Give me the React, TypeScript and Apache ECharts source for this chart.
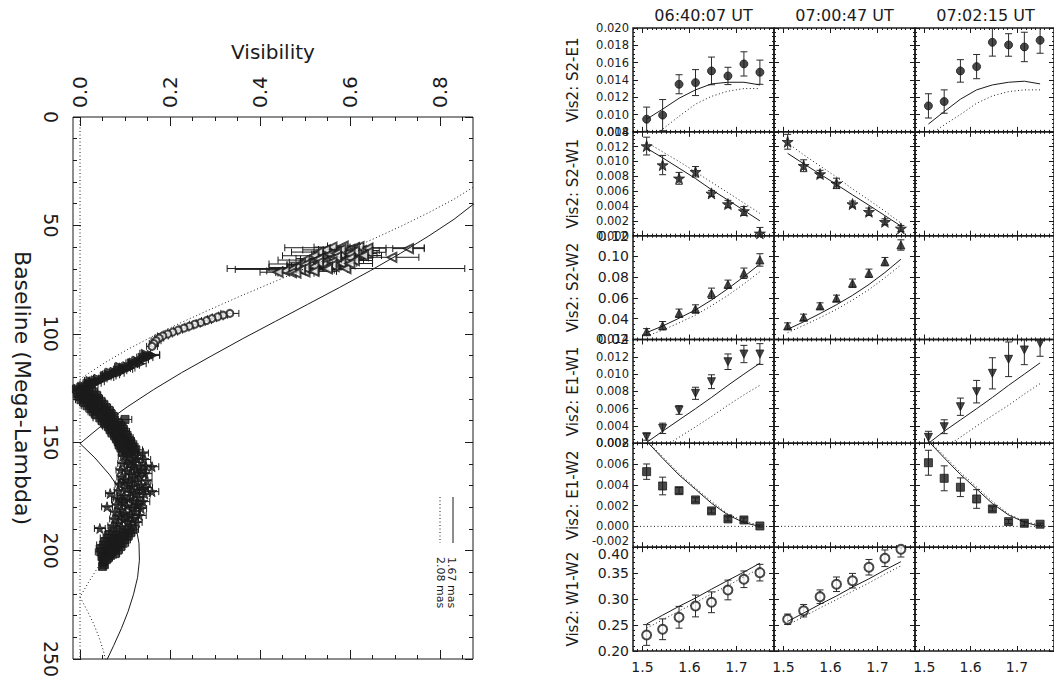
import React, { useEffect, useRef } from "react";
import * as echarts from "echarts";

const FONT = "DejaVu Sans";
const INK = "#1b1b1b";

// ---------------- Left panel: visibility vs baseline ----------------
const VIS_LABELS = [0, 0.2, 0.4, 0.6, 0.8];
const VIS_MINOR = [0, 0.05, 0.1, 0.15, 0.2, 0.25, 0.3, 0.35, 0.4, 0.45, 0.5, 0.55, 0.6, 0.65, 0.7, 0.75, 0.8, 0.85];
const LEGEND_NAMES = ["1.67 mas", "2.08 mas"];

// uniform-disk model curves (baseline in Mega-Lambda, |V|)
const UD167_BASE = [39.3, 47.2, 55.0, 62.9, 70.8, 78.6, 86.5, 94.3, 102.2, 110.1, 117.9, 125.8, 133.7, 141.5, 149.4, 150.6, 157.2, 165.1, 173.0, 180.8, 188.7, 196.6, 204.4, 212.3, 220.1, 228.0, 235.9, 243.7, 251.6];
const UD167_VIS = [0.880, 0.831, 0.774, 0.712, 0.646, 0.577, 0.505, 0.434, 0.362, 0.293, 0.226, 0.163, 0.105, 0.053, 0.007, 0.0, 0.033, 0.066, 0.092, 0.112, 0.124, 0.131, 0.132, 0.128, 0.119, 0.107, 0.092, 0.075, 0.057];
const UD208_BASE = [31.6, 37.9, 44.2, 50.5, 56.8, 63.1, 69.4, 75.8, 82.1, 88.4, 94.7, 101.0, 107.3, 113.6, 119.9, 121.0, 126.3, 132.6, 138.9, 145.2, 151.5, 157.8, 164.1, 170.5, 176.8, 183.1, 189.4, 195.7, 202.0, 208.3, 214.6, 221.0, 221.4, 227.3, 233.6, 239.9, 246.2, 252.5];
const UD208_VIS = [0.880, 0.831, 0.774, 0.712, 0.646, 0.577, 0.505, 0.434, 0.362, 0.293, 0.226, 0.163, 0.105, 0.053, 0.007, 0.0, 0.033, 0.066, 0.092, 0.112, 0.124, 0.131, 0.132, 0.128, 0.119, 0.107, 0.092, 0.075, 0.057, 0.038, 0.019, 0.001, 0.0, 0.015, 0.030, 0.042, 0.052, 0.059];

// measured points: [baseline, visibility, error]
const OPEN_TRIANGLES = [
  [59.5, 0.585, 0.035], [60.0, 0.560, 0.040], [60.3, 0.610, 0.155], [60.7, 0.730, 0.035], [61.0, 0.600, 0.030],
  [61.3, 0.545, 0.050], [61.6, 0.625, 0.040], [62.0, 0.575, 0.030], [62.3, 0.530, 0.060], [62.6, 0.595, 0.035],
  [63.0, 0.615, 0.045], [63.3, 0.555, 0.040], [63.6, 0.580, 0.030], [64.0, 0.520, 0.070], [64.3, 0.600, 0.040],
  [64.7, 0.693, 0.060], [65.0, 0.560, 0.035], [65.3, 0.530, 0.050], [65.7, 0.590, 0.040], [66.0, 0.500, 0.060],
  [66.3, 0.570, 0.030], [66.7, 0.545, 0.045], [67.0, 0.515, 0.050], [67.4, 0.580, 0.035], [67.8, 0.490, 0.070],
  [68.2, 0.540, 0.040], [68.6, 0.510, 0.050], [69.0, 0.565, 0.035], [69.4, 0.480, 0.060], [69.9, 0.591, 0.264],
  [70.3, 0.470, 0.125], [70.6, 0.520, 0.045], [71.0, 0.455, 0.040], [71.4, 0.500, 0.030], [71.8, 0.470, 0.035],
  [59.8, 0.620, 0.030], [60.5, 0.640, 0.040], [61.1, 0.580, 0.050], [61.9, 0.610, 0.030], [62.4, 0.640, 0.040],
  [62.9, 0.570, 0.050], [63.4, 0.600, 0.030], [63.9, 0.630, 0.040], [64.5, 0.570, 0.040], [65.1, 0.600, 0.050],
  [65.6, 0.530, 0.040], [66.2, 0.610, 0.040], [66.8, 0.560, 0.030], [67.2, 0.530, 0.040], [67.6, 0.600, 0.050],
  [68.0, 0.500, 0.040], [68.4, 0.560, 0.040], [68.9, 0.520, 0.050], [69.3, 0.550, 0.030], [69.7, 0.500, 0.040],
  [70.1, 0.550, 0.050], [70.5, 0.490, 0.040], [71.2, 0.520, 0.050], [71.6, 0.440, 0.040], [72.0, 0.480, 0.040],
];
const OPEN_CIRCLES = [
  [90.6, 0.333, 0.020], [91.4, 0.318, 0.010], [92.2, 0.306, 0.012], [93.0, 0.293, 0.010], [93.9, 0.281, 0.011],
  [94.8, 0.268, 0.010], [95.6, 0.255, 0.012], [96.5, 0.243, 0.010], [97.4, 0.231, 0.011], [98.3, 0.218, 0.010],
  [99.2, 0.206, 0.011], [100.1, 0.195, 0.010], [101.0, 0.184, 0.012], [102.0, 0.176, 0.010], [103.2, 0.169, 0.011],
  [104.5, 0.164, 0.010], [105.8, 0.160, 0.012],
];
const FILLED_TRIANGLES = [
  [109.5, 0.158, 0.019], [110.2, 0.150, 0.010], [110.8, 0.138, 0.012], [111.5, 0.142, 0.010], [112.1, 0.126, 0.011],
  [112.8, 0.130, 0.010], [113.4, 0.114, 0.012], [114.0, 0.118, 0.010], [114.7, 0.104, 0.011], [115.3, 0.096, 0.010],
  [116.0, 0.100, 0.012], [116.6, 0.084, 0.010], [117.3, 0.076, 0.011], [117.9, 0.080, 0.010], [118.6, 0.062, 0.012],
  [119.2, 0.055, 0.010], [119.9, 0.058, 0.011], [120.5, 0.040, 0.010], [121.2, 0.034, 0.012], [121.8, 0.028, 0.010],
  [122.5, 0.018, 0.011], [123.1, 0.022, 0.010], [123.8, 0.008, 0.012], [124.4, 0.003, 0.010], [125.1, -0.005, 0.011],
  [125.8, 0.006, 0.010],
  [109.0, 0.145, 0.012], [110.0, 0.162, 0.015], [111.0, 0.152, 0.010], [112.0, 0.140, 0.012], [113.0, 0.118, 0.010],
  [113.8, 0.135, 0.012], [114.5, 0.122, 0.010], [115.0, 0.088, 0.011], [115.8, 0.112, 0.010], [116.4, 0.105, 0.012],
  [117.0, 0.094, 0.010], [117.6, 0.066, 0.011], [118.2, 0.088, 0.010], [118.9, 0.076, 0.012], [119.5, 0.070, 0.010],
  [120.2, 0.064, 0.011], [120.8, 0.050, 0.010], [121.5, 0.022, 0.012], [122.1, 0.044, 0.010], [122.8, 0.036, 0.011],
  [123.5, 0.030, 0.010], [124.1, 0.016, 0.012], [124.8, 0.024, 0.010], [125.5, -0.008, 0.011], [126.2, 0.018, 0.010],
];
const FILLED_SQUARES = [
  [126.5, 0.012, 0.010], [127.2, 0.004, 0.012], [127.9, 0.020, 0.010], [128.6, 0.008, 0.011], [129.3, 0.026, 0.010],
  [130.0, 0.014, 0.012], [130.7, 0.032, 0.010], [131.4, 0.020, 0.011], [132.1, 0.036, 0.010], [132.8, 0.026, 0.012],
  [133.5, 0.042, 0.010], [134.2, 0.032, 0.011], [134.9, 0.048, 0.010], [135.6, 0.040, 0.012], [136.3, 0.055, 0.010],
  [137.0, 0.046, 0.020], [137.7, 0.060, 0.010], [138.4, 0.052, 0.011], [139.1, 0.066, 0.010], [139.8, 0.058, 0.012],
  [140.5, 0.072, 0.010], [141.2, 0.064, 0.011], [141.9, 0.078, 0.010], [142.6, 0.070, 0.020], [143.3, 0.082, 0.010],
  [144.0, 0.076, 0.011], [144.7, 0.086, 0.010], [145.4, 0.080, 0.012], [146.1, 0.090, 0.010], [146.8, 0.084, 0.011],
  [147.5, 0.094, 0.010], [148.2, 0.088, 0.012], [148.9, 0.097, 0.010], [149.6, 0.091, 0.011], [150.3, 0.100, 0.010],
  [151.0, 0.095, 0.012], [151.7, 0.104, 0.010], [152.4, 0.098, 0.011], [153.1, 0.108, 0.015], [153.8, 0.102, 0.010],
  [126.8, 0.030, 0.010], [127.6, -0.006, 0.012], [128.3, 0.036, 0.010], [129.0, -0.002, 0.011], [129.8, 0.040, 0.010],
  [130.4, 0.002, 0.012], [131.1, 0.046, 0.010], [131.8, 0.010, 0.011], [132.5, 0.052, 0.010], [133.2, 0.016, 0.012],
  [134.0, 0.058, 0.010], [134.6, 0.024, 0.011], [135.3, 0.064, 0.010], [136.0, 0.030, 0.012], [136.7, 0.068, 0.010],
  [137.4, 0.036, 0.011], [138.1, 0.074, 0.010], [138.8, 0.044, 0.015], [139.5, 0.100, 0.015], [140.2, 0.050, 0.010],
  [140.9, 0.084, 0.011], [141.6, 0.056, 0.010], [142.3, 0.090, 0.012], [143.0, 0.064, 0.010], [143.7, 0.094, 0.011],
  [144.4, 0.068, 0.010], [145.1, 0.098, 0.012], [145.8, 0.072, 0.010], [146.5, 0.102, 0.011], [147.2, 0.078, 0.010],
  [147.9, 0.106, 0.012], [148.6, 0.082, 0.010], [149.3, 0.110, 0.011], [150.0, 0.086, 0.010], [150.7, 0.114, 0.012],
  [151.4, 0.088, 0.010], [152.1, 0.118, 0.011], [152.8, 0.092, 0.010], [153.5, 0.124, 0.015], [154.2, 0.096, 0.010],
];
const STARS = [
  [154.5, 0.118, 0.012], [155.3, 0.110, 0.010], [156.1, 0.124, 0.015], [156.9, 0.106, 0.010], [157.7, 0.128, 0.012],
  [158.5, 0.114, 0.010], [159.3, 0.120, 0.020], [160.1, 0.108, 0.010], [160.9, 0.132, 0.012], [161.3, 0.160, 0.015],
  [161.7, 0.116, 0.010], [162.5, 0.124, 0.011], [163.3, 0.104, 0.010], [164.1, 0.128, 0.018], [164.9, 0.112, 0.010],
  [165.7, 0.134, 0.012], [166.5, 0.118, 0.010], [167.3, 0.100, 0.015], [168.1, 0.126, 0.010], [168.9, 0.110, 0.012],
  [169.7, 0.136, 0.020], [170.5, 0.116, 0.010], [171.3, 0.104, 0.011], [172.1, 0.128, 0.010], [172.8, 0.160, 0.015],
  [173.0, 0.112, 0.012], [173.7, 0.067, 0.010], [173.8, 0.122, 0.010], [174.6, 0.098, 0.015], [175.4, 0.130, 0.012],
  [176.2, 0.108, 0.010], [177.0, 0.120, 0.020], [177.8, 0.096, 0.010], [178.6, 0.126, 0.012], [179.4, 0.104, 0.010],
  [179.8, 0.060, 0.012], [180.2, 0.116, 0.015], [181.0, 0.092, 0.010], [181.8, 0.122, 0.012], [182.6, 0.100, 0.010],
  [183.4, 0.112, 0.020], [184.2, 0.088, 0.010], [185.0, 0.118, 0.012], [185.8, 0.096, 0.010], [186.6, 0.108, 0.015],
  [187.4, 0.084, 0.010], [188.2, 0.112, 0.012], [189.0, 0.092, 0.010], [189.8, 0.044, 0.012],
  [155.0, 0.140, 0.012], [156.5, 0.095, 0.010], [158.0, 0.142, 0.015], [159.8, 0.094, 0.010], [161.0, 0.146, 0.012],
  [162.8, 0.090, 0.010], [164.5, 0.145, 0.015], [166.0, 0.092, 0.010], [167.8, 0.148, 0.012], [169.3, 0.088, 0.010],
  [170.9, 0.146, 0.015], [172.4, 0.086, 0.010], [174.0, 0.144, 0.012], [175.8, 0.084, 0.010], [177.4, 0.140, 0.015],
  [178.9, 0.082, 0.010], [180.6, 0.136, 0.012], [182.2, 0.078, 0.010], [183.8, 0.132, 0.015], [185.4, 0.076, 0.010],
  [187.0, 0.126, 0.012], [188.6, 0.072, 0.010], [163.0, 0.138, 0.010], [171.8, 0.140, 0.012], [179.0, 0.130, 0.012],
  [176.6, 0.090, 0.020], [168.5, 0.097, 0.012], [184.6, 0.104, 0.012],
];
const FILLED_DIAMONDS = [
  [190.6, 0.108, 0.012], [191.4, 0.090, 0.010], [192.2, 0.100, 0.015], [193.0, 0.082, 0.010], [193.8, 0.094, 0.012],
  [194.6, 0.076, 0.010], [195.4, 0.088, 0.020], [196.2, 0.070, 0.010], [197.0, 0.084, 0.012], [197.8, 0.064, 0.015],
  [198.6, 0.078, 0.010], [199.4, 0.060, 0.012], [200.2, 0.072, 0.010], [201.0, 0.056, 0.015], [201.8, 0.066, 0.010],
  [202.6, 0.054, 0.012], [203.4, 0.062, 0.010], [205.0, 0.052, 0.008], [206.5, 0.054, 0.008], [207.3, 0.050, 0.006],
  [190.2, 0.118, 0.012], [191.0, 0.072, 0.015], [191.8, 0.112, 0.010], [192.6, 0.066, 0.012], [193.4, 0.106, 0.010],
  [194.2, 0.060, 0.015], [195.0, 0.100, 0.012], [195.8, 0.056, 0.010], [196.6, 0.096, 0.012], [197.4, 0.052, 0.015],
  [198.2, 0.090, 0.010], [199.0, 0.048, 0.012], [199.8, 0.084, 0.010], [200.6, 0.046, 0.012], [201.4, 0.078, 0.010],
  [202.2, 0.068, 0.012], [203.0, 0.050, 0.010], [204.2, 0.058, 0.010],
];

// ---------------- Right panel: Vis2 vs wavelength ----------------
const TIMES = ["06:40:07 UT", "07:00:47 UT", "07:02:15 UT"];
const BASELINES = ["S2-E1", "S2-W1", "S2-W2", "E1-W1", "E1-W2", "W1-W2"];
const WAVE = [1.509, 1.543, 1.578, 1.613, 1.647, 1.682, 1.716, 1.75];
const WAVE_TICKS = [1.5, 1.6, 1.7];
const ROW_MIN = [0.008, 0.0, 0.02, 0.002, -0.002, 0.2];
const ROW_MAX = [0.02, 0.014, 0.12, 0.014, 0.008, 0.4];
const ROW_STEP = [0.002, 0.002, 0.02, 0.002, 0.002, 0.05];
const ROW_DECIMALS = [3, 3, 2, 3, 3, 2];

const S2E1_A = [0.00946, 0.00993, 0.0135, 0.01369, 0.01504, 0.01446, 0.01585, 0.01489];
const S2E1_A_ERR = [0.0014, 0.0018, 0.0011, 0.0015, 0.0016, 0.001, 0.0014, 0.0014];
const S2E1_A_SOLID = [0.00946, 0.01062, 0.01188, 0.01285, 0.01354, 0.01373, 0.01373, 0.01342];
const S2E1_A_DOT = [0.0068, 0.0083, 0.0098, 0.0112, 0.0121, 0.0127, 0.013, 0.013];
const S2E1_C = [0.011, 0.0115, 0.01504, 0.01554, 0.01835, 0.01804, 0.01781, 0.01858];
const S2E1_C_ERR = [0.0014, 0.00135, 0.0013, 0.0014, 0.0016, 0.0013, 0.0017, 0.0015];
const S2E1_C_SOLID = [0.0089, 0.01034, 0.01177, 0.01285, 0.01342, 0.01373, 0.01385, 0.01354];
const S2E1_C_DOT = [0.0076, 0.0088, 0.01, 0.0113, 0.01215, 0.01265, 0.01285, 0.01285];

const S2W1_A = [0.01208, 0.00952, 0.00773, 0.00862, 0.0057, 0.00426, 0.00332, 0.00031];
const S2W1_A_ERR = [0.0012, 0.0013, 0.0008, 0.0007, 0.0004, 0.0005, 0.0006, 0.0008];
const S2W1_A_SOLID = [0.0118, 0.0105, 0.0091, 0.0077, 0.0062, 0.0048, 0.0034, 0.002];
const S2W1_A_DOT = [0.0126, 0.0113, 0.01, 0.0086, 0.0072, 0.0058, 0.0044, 0.003];
const S2W1_B = [0.01266, 0.00943, 0.00831, 0.00705, 0.00426, 0.00322, 0.00187, 0.00098];
const S2W1_B_ERR = [0.001, 0.0008, 0.0005, 0.0007, 0.0004, 0.0005, 0.0004, 0.0004];
const S2W1_B_SOLID = [0.0111, 0.0097, 0.0083, 0.0069, 0.0055, 0.0041, 0.0027, 0.0013];
const S2W1_B_DOT = [0.0125, 0.0109, 0.0094, 0.0079, 0.0063, 0.0048, 0.0033, 0.0017];

const S2W2_A = [0.0275, 0.0333, 0.0453, 0.0494, 0.0645, 0.0732, 0.0838, 0.0966];
const S2W2_A_ERR = [0.003, 0.004, 0.004, 0.004, 0.005, 0.004, 0.005, 0.006];
const S2W2_A_SOLID = [0.0266, 0.033, 0.0405, 0.0485, 0.058, 0.069, 0.0805, 0.0927];
const S2W2_A_DOT = [0.0234, 0.029, 0.036, 0.0435, 0.0525, 0.0625, 0.0735, 0.0853];
const S2W2_B = [0.033, 0.0414, 0.0523, 0.0597, 0.0742, 0.0838, 0.095, 0.111];
const S2W2_B_ERR = [0.003, 0.003, 0.003, 0.003, 0.004, 0.004, 0.004, 0.005];
const S2W2_B_SOLID = [0.0298, 0.037, 0.045, 0.0535, 0.0625, 0.073, 0.0845, 0.0973];
const S2W2_B_DOT = [0.0266, 0.0335, 0.041, 0.049, 0.058, 0.068, 0.0795, 0.0918];

const E1W1_A = [0.00276, 0.00373, 0.00585, 0.00778, 0.00912, 0.01143, 0.01232, 0.01232];
const E1W1_A_ERR = [0.0004, 0.0006, 0.0005, 0.0007, 0.0008, 0.0009, 0.001, 0.0012];
const E1W1_A_SOLID = [0.0021, 0.0034, 0.0047, 0.006, 0.0073, 0.0087, 0.01, 0.01125];
const E1W1_A_DOT = [0.0003, 0.0015, 0.0027, 0.0039, 0.0051, 0.0064, 0.0076, 0.0087];
const E1W1_C = [0.00269, 0.00392, 0.00623, 0.00797, 0.01009, 0.01171, 0.01279, 0.01356];
const E1W1_C_ERR = [0.0007, 0.0008, 0.001, 0.0013, 0.0018, 0.002, 0.0017, 0.0015];
const E1W1_C_SOLID = [0.002, 0.0034, 0.0047, 0.006, 0.0073, 0.0087, 0.01, 0.0113];
const E1W1_C_DOT = [0.0003, 0.0015, 0.0027, 0.004, 0.0052, 0.0064, 0.0077, 0.0089];

const E1W2_A = [0.00527, 0.00389, 0.00344, 0.00255, 0.00149, 0.00072, 0.00062, 0.00004];
const E1W2_A_ERR = [0.00074, 0.00085, 0.0003, 0.0002, 0.0002, 0.0002, 0.0002, 0.0001];
const E1W2_A_SOLID = [0.0082, 0.00656, 0.00495, 0.00357, 0.00223, 0.0011, 0.00036, 0.0];
const E1W2_A_DOT = [0.0083, 0.0067, 0.0051, 0.0037, 0.0024, 0.0012, 0.0005, 0.0001];
const E1W2_C = [0.00613, 0.00463, 0.00377, 0.00264, 0.00168, 0.00046, 0.0003, 0.00021];
const E1W2_C_ERR = [0.0012, 0.0012, 0.0009, 0.0009, 0.0002, 0.0002, 0.0002, 0.0001];
const E1W2_C_SOLID = [0.0082, 0.0066, 0.005, 0.0036, 0.0022, 0.0011, 0.0004, 0.0];
const E1W2_C_DOT = [0.0083, 0.0068, 0.0052, 0.0038, 0.0024, 0.0012, 0.0005, 0.0001];

const W1W2_A = [0.2308, 0.2418, 0.2649, 0.2867, 0.2938, 0.3175, 0.3381, 0.3509];
const W1W2_A_ERR = [0.02, 0.02, 0.021, 0.021, 0.02, 0.019, 0.016, 0.016];
const W1W2_A_SOLID = [0.252, 0.269, 0.286, 0.302, 0.319, 0.336, 0.352, 0.369];
const W1W2_A_DOT = [0.244, 0.26, 0.277, 0.293, 0.31, 0.326, 0.343, 0.359];
const W1W2_B = [0.2611, 0.2776, 0.3046, 0.3285, 0.3354, 0.3613, 0.3786, 0.396];
const W1W2_B_ERR = [0.01, 0.012, 0.013, 0.014, 0.014, 0.015, 0.016, 0.015];
const W1W2_B_SOLID = [0.257, 0.273, 0.29, 0.306, 0.323, 0.339, 0.356, 0.372];
const W1W2_B_DOT = [0.25, 0.266, 0.283, 0.299, 0.315, 0.331, 0.348, 0.364];

const STAR_PATH =
  "path://M50,0 L61.8,35.1 L98.1,35.1 L68.8,56.7 L79.4,91 L50,70 L20.6,91 L31.2,56.7 L1.9,35.1 L38.2,35.1 Z";

const PANELS = [
  { row: 0, col: 0, obs: S2E1_A, err: S2E1_A_ERR, solid: S2E1_A_SOLID, dot: S2E1_A_DOT },
  { row: 0, col: 2, obs: S2E1_C, err: S2E1_C_ERR, solid: S2E1_C_SOLID, dot: S2E1_C_DOT },
  { row: 1, col: 0, obs: S2W1_A, err: S2W1_A_ERR, solid: S2W1_A_SOLID, dot: S2W1_A_DOT },
  { row: 1, col: 1, obs: S2W1_B, err: S2W1_B_ERR, solid: S2W1_B_SOLID, dot: S2W1_B_DOT },
  { row: 2, col: 0, obs: S2W2_A, err: S2W2_A_ERR, solid: S2W2_A_SOLID, dot: S2W2_A_DOT },
  { row: 2, col: 1, obs: S2W2_B, err: S2W2_B_ERR, solid: S2W2_B_SOLID, dot: S2W2_B_DOT },
  { row: 3, col: 0, obs: E1W1_A, err: E1W1_A_ERR, solid: E1W1_A_SOLID, dot: E1W1_A_DOT },
  { row: 3, col: 2, obs: E1W1_C, err: E1W1_C_ERR, solid: E1W1_C_SOLID, dot: E1W1_C_DOT },
  { row: 4, col: 0, obs: E1W2_A, err: E1W2_A_ERR, solid: E1W2_A_SOLID, dot: E1W2_A_DOT },
  { row: 4, col: 2, obs: E1W2_C, err: E1W2_C_ERR, solid: E1W2_C_SOLID, dot: E1W2_C_DOT },
  { row: 5, col: 0, obs: W1W2_A, err: W1W2_A_ERR, solid: W1W2_A_SOLID, dot: W1W2_A_DOT },
  { row: 5, col: 1, obs: W1W2_B, err: W1W2_B_ERR, solid: W1W2_B_SOLID, dot: W1W2_B_DOT },
];

const ROW_SYMBOL = ["circle", STAR_PATH, "triangle", "triangle", "rect", "emptyCircle"];
const ROW_SYMBOL_ROTATE = [0, 0, 0, 180, 0, 0];
const ROW_SYMBOL_SIZE = [8, 11, 8, 8, 8, 9];
const ROW_LABEL_SIZE = [11.5, 11.5, 14, 11.5, 11.5, 14];

const COL_LEFT = [633, 774, 915];
const COL_W = 141;
const ROW_TOP = 28;
const ROW_H = 103.83;

const tickStyle = { color: INK, width: 1 };
const txt = (size: number) => ({ fontFamily: FONT, fontSize: size, color: INK });
const DOTTED = [1, 2.5];

function hErrRender(params: any, api: any) {
  const v = api.value(0), b = api.value(1), e = api.value(2);
  const p1 = api.coord([v - e, b]);
  const p2 = api.coord([v + e, b]);
  const c = 3.5;
  const st = { stroke: INK, lineWidth: 1 };
  return {
    type: "group",
    children: [
      { type: "line", shape: { x1: p1[0], y1: p1[1], x2: p2[0], y2: p2[1] }, style: st },
      { type: "line", shape: { x1: p1[0], y1: p1[1] - c, x2: p1[0], y2: p1[1] + c }, style: st },
      { type: "line", shape: { x1: p2[0], y1: p2[1] - c, x2: p2[0], y2: p2[1] + c }, style: st },
    ],
  };
}

function vErrRender(params: any, api: any) {
  const x = api.value(0), y = api.value(1), e = api.value(2);
  const p1 = api.coord([x, y - e]);
  const p2 = api.coord([x, y + e]);
  const c = 3.5;
  const st = { stroke: "#2a2a2a", lineWidth: 1 };
  return {
    type: "group",
    children: [
      { type: "line", shape: { x1: p1[0], y1: p1[1], x2: p2[0], y2: p2[1] }, style: st },
      { type: "line", shape: { x1: p1[0] - c, y1: p1[1], x2: p1[0] + c, y2: p1[1] }, style: st },
      { type: "line", shape: { x1: p2[0] - c, y1: p2[1], x2: p2[0] + c, y2: p2[1] }, style: st },
    ],
  };
}

function fmtFixed(d: number) {
  return (v: number) => (Math.abs(v) < 1e-9 ? 0 : v).toFixed(d);
}

function buildOption() {
  const grid: any[] = [];
  const xAxis: any[] = [];
  const yAxis: any[] = [];
  const series: any[] = [];
  const graphic: any[] = [];

  // ---------- left panel ----------
  grid.push({ left: 73, top: 117, width: 400, height: 542, show: true, borderColor: INK, borderWidth: 1, backgroundColor: "transparent" });
  const visAxis = (pos: string, major: boolean, labels: boolean) => ({
    gridIndex: 0, type: "value", position: pos, min: -0.0156, max: 0.8733,
    axisLine: { show: false, onZero: false }, splitLine: { show: false },
    axisTick: { show: true, inside: true, length: major ? 9 : 4, customValues: major ? VIS_LABELS : VIS_MINOR, lineStyle: tickStyle },
    axisLabel: { show: labels, customValues: VIS_LABELS, rotate: -90, margin: 9, formatter: fmtFixed(1), ...txt(20) },
  });
  xAxis.push({ ...visAxis("top", true, true), name: "Visibility", nameLocation: "middle", nameGap: 55, nameTextStyle: txt(20) });
  xAxis.push(visAxis("top", false, false));
  xAxis.push(visAxis("bottom", true, false));
  xAxis.push(visAxis("bottom", false, false));
  const baseAxis = (pos: string, labels: boolean) => ({
    gridIndex: 0, type: "value", position: pos, inverse: true, min: 0, max: 250, interval: 50,
    axisLine: { show: false, onZero: false }, splitLine: { show: false },
    axisTick: { show: true, inside: true, length: 8, lineStyle: tickStyle },
    minorTick: { show: true, splitNumber: 5, length: 4, lineStyle: tickStyle },
    axisLabel: { show: labels, rotate: -90, margin: 13, showMinLabel: true, showMaxLabel: true, ...txt(19) },
  });
  yAxis.push({ ...baseAxis("left", true), name: "Baseline (Mega-Lambda)", nameLocation: "middle", nameRotate: -90, nameGap: 40, nameTextStyle: txt(22) });
  yAxis.push(baseAxis("right", false));

  series.push({
    type: "line", xAxisIndex: 0, yAxisIndex: 0, data: [[0, 0], [0, 250]], showSymbol: false, silent: true,
    lineStyle: { color: INK, width: 1, type: DOTTED },
  });
  series.push({
    type: "line", xAxisIndex: 0, yAxisIndex: 0, name: LEGEND_NAMES[0], showSymbol: false, silent: true, clip: true,
    data: UD167_BASE.map((b, i) => [UD167_VIS[i], b]), lineStyle: { color: INK, width: 1 },
  });
  series.push({
    type: "line", xAxisIndex: 0, yAxisIndex: 0, name: LEGEND_NAMES[1], showSymbol: false, silent: true, clip: true,
    data: UD208_BASE.map((b, i) => [UD208_VIS[i], b]), lineStyle: { color: INK, width: 1, type: DOTTED },
  });
  const groups = [
    { pts: OPEN_TRIANGLES, symbol: "emptyTriangle", rotate: 90, size: 9 },
    { pts: OPEN_CIRCLES, symbol: "emptyCircle", rotate: 0, size: 7 },
    { pts: FILLED_TRIANGLES, symbol: "triangle", rotate: -90, size: 8 },
    { pts: FILLED_SQUARES, symbol: "rect", rotate: 0, size: 8 },
    { pts: STARS, symbol: STAR_PATH, rotate: 0, size: 10 },
    { pts: FILLED_DIAMONDS, symbol: "rect", rotate: 0, size: 8 },
  ];
  groups.forEach((g) => {
    series.push({
      type: "custom", xAxisIndex: 0, yAxisIndex: 0, clip: true, silent: true,
      renderItem: hErrRender, encode: { x: 0, y: 1 },
      data: g.pts.map((p) => [p[1], p[0], p[2]]),
    });
  });
  groups.forEach((g) => {
    series.push({
      type: "scatter", xAxisIndex: 0, yAxisIndex: 0, silent: true,
      symbol: g.symbol, symbolRotate: g.rotate, symbolSize: g.size,
      itemStyle: { color: INK, borderColor: INK, borderWidth: 1 },
      data: g.pts.map((p) => [p[1], p[0]]),
    });
  });
  // legend of the model curves
  graphic.push({ type: "line", shape: { x1: 453, y1: 497, x2: 453, y2: 543 }, style: { stroke: INK, lineWidth: 1 } });
  graphic.push({ type: "line", shape: { x1: 440, y1: 497, x2: 440, y2: 543 }, style: { stroke: INK, lineWidth: 1, lineDash: DOTTED } });
  graphic.push({ type: "text", x: 451, y: 557, rotation: -Math.PI / 2, style: { text: LEGEND_NAMES[0], fill: INK, fontFamily: FONT, fontSize: 11, textAlign: "left", textVerticalAlign: "middle" } });
  graphic.push({ type: "text", x: 440, y: 557, rotation: -Math.PI / 2, style: { text: LEGEND_NAMES[1], fill: INK, fontFamily: FONT, fontSize: 11, textAlign: "left", textVerticalAlign: "middle" } });

  // ---------- right panel ----------
  const gridIndexOf: Record<string, number> = {};
  for (let r = 0; r < 6; r++) {
    for (let c = 0; c < 3; c++) {
      const gi = grid.length;
      gridIndexOf[r + "_" + c] = gi;
      grid.push({
        left: COL_LEFT[c], top: ROW_TOP + r * ROW_H, width: COL_W, height: ROW_H,
        show: true, borderColor: INK, borderWidth: 1.5, backgroundColor: "transparent",
      });
      const xa = (pos: string, major: boolean, labels: boolean) => ({
        gridIndex: gi, type: "value", position: pos, min: 1.48, max: 1.78,
        ...(major ? {} : { interval: 0.01 }),
        axisLine: { show: false, onZero: false }, splitLine: { show: false },
        axisTick: major
          ? { show: true, inside: true, length: 5, customValues: WAVE_TICKS, lineStyle: tickStyle }
          : { show: true, inside: true, length: 2, lineStyle: tickStyle },
        axisLabel: { show: labels, customValues: WAVE_TICKS, formatter: fmtFixed(1), margin: 9, ...txt(14) },
      });
      xAxis.push(xa("bottom", true, r === 5));
      xAxis.push(xa("bottom", false, false));
      xAxis.push(xa("top", true, false));
      xAxis.push(xa("top", false, false));
      // keep the E1-W2 bottom label and the W1-W2 top label apart, as in the original
      const edgeAlign: any = {};
      if (r === 4) edgeAlign.verticalAlignMinLabel = "bottom";
      if (r === 5) edgeAlign.verticalAlignMaxLabel = "top";
      const ya = (pos: string, labels: boolean) => ({
        gridIndex: gi, type: "value", position: pos, min: ROW_MIN[r], max: ROW_MAX[r], interval: ROW_STEP[r],
        axisLine: { show: false, onZero: false }, splitLine: { show: false },
        axisTick: { show: true, inside: true, length: 5, lineStyle: tickStyle },
        minorTick: { show: true, splitNumber: r === 5 ? 5 : 4, length: 2, lineStyle: tickStyle },
        axisLabel: {
          show: labels, margin: 4, showMinLabel: true, showMaxLabel: true, ...edgeAlign,
          formatter: fmtFixed(ROW_DECIMALS[r]), ...txt(ROW_LABEL_SIZE[r]),
        },
      });
      yAxis.push({
        ...ya("left", c === 0),
        ...(c === 0
          ? { name: "Vis2: " + BASELINES[r], nameLocation: "middle", nameRotate: 90, nameGap: 53, nameTextStyle: txt(15) }
          : {}),
      });
      yAxis.push(ya("right", false));
    }
  }
  const xIdx = (gi: number) => 4 + (gi - 1) * 4;
  const yIdx = (gi: number) => 2 + (gi - 1) * 2;

  // zero reference line for E1-W2
  for (let c = 0; c < 3; c++) {
    const gi = gridIndexOf["4_" + c];
    series.push({
      type: "line", xAxisIndex: xIdx(gi), yAxisIndex: yIdx(gi), showSymbol: false, silent: true,
      data: [[1.48, 0], [1.78, 0]], lineStyle: { color: INK, width: 1, type: DOTTED },
    });
  }

  PANELS.forEach((p) => {
    const gi = gridIndexOf[p.row + "_" + p.col];
    const xi = xIdx(gi), yi = yIdx(gi);
    series.push({
      type: "line", xAxisIndex: xi, yAxisIndex: yi, showSymbol: false, silent: true, clip: true,
      data: WAVE.map((w, i) => [w, p.solid[i]]), lineStyle: { color: INK, width: 1 },
    });
    series.push({
      type: "line", xAxisIndex: xi, yAxisIndex: yi, showSymbol: false, silent: true, clip: true,
      data: WAVE.map((w, i) => [w, p.dot[i]]), lineStyle: { color: INK, width: 1, type: DOTTED },
    });
    series.push({
      type: "custom", xAxisIndex: xi, yAxisIndex: yi, clip: true, silent: true,
      renderItem: vErrRender, encode: { x: 0, y: 1 },
      data: WAVE.map((w, i) => [w, p.obs[i], p.err[i]]),
    });
    series.push({
      type: "scatter", xAxisIndex: xi, yAxisIndex: yi, silent: true,
      symbol: ROW_SYMBOL[p.row], symbolRotate: ROW_SYMBOL_ROTATE[p.row], symbolSize: ROW_SYMBOL_SIZE[p.row],
      itemStyle: { color: INK, borderColor: INK, borderWidth: 1 },
      data: WAVE.map((w, i) => [w, p.obs[i]]),
    });
  });

  TIMES.forEach((t, c) => {
    graphic.push({
      type: "text", x: COL_LEFT[c] + COL_W / 2, y: 15,
      style: { text: t, fill: INK, fontFamily: FONT, fontSize: 16, textAlign: "center", textVerticalAlign: "middle" },
    });
  });

  return {
    animation: false,
    backgroundColor: "#ffffff",
    textStyle: { fontFamily: FONT },
    grid, xAxis, yAxis, series, graphic,
  };
}

export default function App() {
  const ref = useRef<HTMLDivElement | null>(null);
  useEffect(() => {
    if (!ref.current) return;
    const chart = echarts.init(ref.current, undefined, { renderer: "svg" });
    chart.setOption(buildOption() as any);
    return () => chart.dispose();
  }, []);
  return (
    <div
      ref={ref}
      style={{ position: "absolute", left: 0, top: 0, width: 1054, height: 683, background: "#fff" }}
    />
  );
}
